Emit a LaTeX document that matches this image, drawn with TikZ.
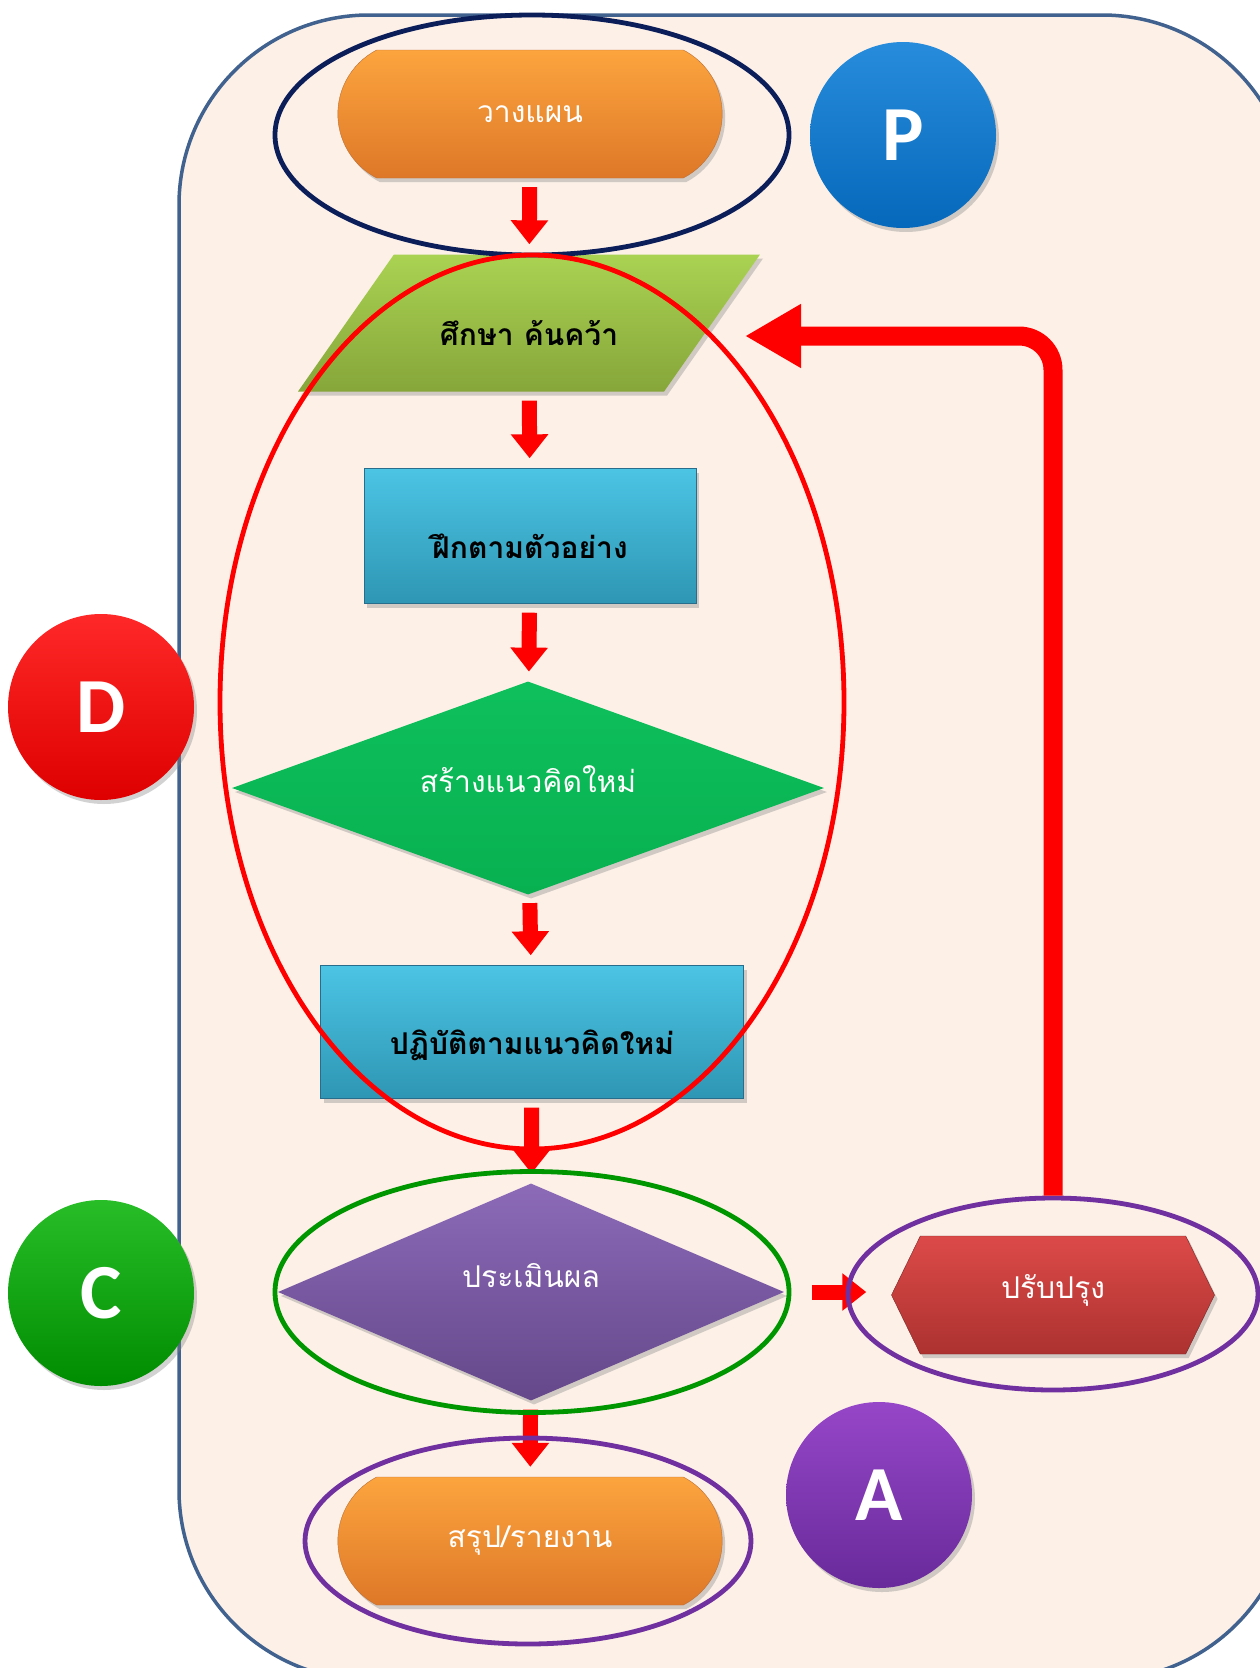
\documentclass[tikz,border=0pt]{standalone}
\usepackage{fontspec}
\newfontfamily\thaifont[Script=Thai]{Loma}
\newfontfamily\letterfont{Carlito}
\usepackage{xcolor}
\usetikzlibrary{shapes,arrows.meta,shadows}

\definecolor{paper}{RGB}{252,240,231}
\definecolor{frameblue}{RGB}{65,98,142}
\definecolor{navyring}{RGB}{12,30,90}
\definecolor{greenring}{RGB}{0,150,0}
\definecolor{purplering}{RGB}{112,48,160}

\begin{document}
\begin{tikzpicture}[x=1pt, y=-1pt]
    \tikzstyle{shade} = [drop shadow={opacity=0.35, shadow xshift=3pt, shadow yshift=-4pt}]
    \tikzstyle{pill} = [rounded rectangle, rounded rectangle arc length=125, minimum width=391pt, minimum height=128pt, top color={rgb,255:red,252;green,164;blue,62}, bottom color={rgb,255:red,222;green,120;blue,40}, draw={rgb,255:red,190;green,110;blue,50}, text=white, shade]
    \tikzstyle{inbox} = [trapezium, trapezium left angle=55, trapezium right angle=125, trapezium stretches body, text height=44pt, text depth=0pt, inner ysep=46.5pt, minimum width=462pt, top color={rgb,255:red,170;green,210;blue,82}, bottom color={rgb,255:red,134;green,166;blue,58}, text=black, font=\thaifont\bfseries\fontsize{30}{36}\selectfont, shade]
    \tikzstyle{procbox} = [rectangle, text height=45pt, text depth=0pt, top color={rgb,255:red,76;green,196;blue,228}, bottom color={rgb,255:red,46;green,150;blue,180}, draw={rgb,255:red,40;green,110;blue,140}, text=black, font=\thaifont\bfseries\fontsize{30}{36}\selectfont, shade]
    \tikzstyle{choice} = [diamond, inner sep=0pt, text=white, shade]
    \tikzstyle{fixbox} = [signal, signal to=west and east, signal pointer angle=128, text height=6pt, text depth=0pt, minimum width=323pt, minimum height=118pt, top color={rgb,255:red,220;green,74;blue,72}, bottom color={rgb,255:red,172;green,50;blue,48}, draw={rgb,255:red,120;green,40;blue,40}, text=white, shade]
    \tikzstyle{ring} = [ellipse, line width=4.8pt, inner sep=0pt]
    \tikzstyle{letter} = [circle, minimum size=186pt, text=white, font=\letterfont\bfseries\fontsize{78}{80}\selectfont, shade]
    \tikzstyle{flow} = [draw=red, line width=15pt, -{Triangle[width=36pt,length=24pt]}, shorten <=9pt, shorten >=10pt]
    \tikzstyle{loop} = [draw=red, line width=19pt, rounded corners=34pt, -{Triangle[width=60pt,length=56pt]}]

    % Frame
    \clip (0,0) rectangle (1260,1668);
    \fill[white] (0,0) rectangle (1260,1668);
    \draw[frameblue, fill=paper, line width=3.5pt, rounded corners=190pt] (179,15) rectangle (1292,1680);

    \begin{scope}[font=\thaifont\fontsize{30}{36}\selectfont]
    % Steps
    \node [pill] (plan) at (530,114) {วางแผน};
    \node [inbox] (study) at (529,323) {ศึกษา ค้นคว้า};
    \node [procbox, minimum width=332pt, minimum height=135pt] (practice) at (530,536) {ฝึกตามตัวอย่าง};
    \node [choice, aspect=2.78, text height=8pt, text depth=0pt, minimum width=592pt, minimum height=213pt, top color={rgb,255:red,14;green,192;blue,92}, bottom color={rgb,255:red,8;green,176;blue,80}] (idea) at (528,788) {สร้างแนวคิดใหม่};
    \node [procbox, minimum width=423pt, minimum height=133pt] (apply) at (532,1032) {ปฏิบัติตามแนวคิดใหม่};
    \node [choice, aspect=2.33, text height=0pt, text depth=10pt, minimum width=506pt, minimum height=217pt, top color={rgb,255:red,140;green,106;blue,184}, bottom color={rgb,255:red,100;green,72;blue,138}] (eval) at (531,1292) {ประเมินผล};
    \node [fixbox] (fix) at (1053,1295) {ปรับปรุง};
    \node [pill] (report) at (530,1541) {สรุป/รายงาน};
    \end{scope}

    % Letters
    \node [letter, top color={rgb,255:red,40;green,140;blue,220}, bottom color={rgb,255:red,6;green,104;blue,186}] (markP) at (903,135) {P};
    \node [letter, top color={rgb,255:red,255;green,40;blue,40}, bottom color={rgb,255:red,222;green,0;blue,0}] (markD) at (101,707) {D};
    \node [letter, top color={rgb,255:red,40;green,190;blue,40}, bottom color={rgb,255:red,0;green,140;blue,0}] (markC) at (101,1293) {C};
    \node [letter, top color={rgb,255:red,150;green,70;blue,200}, bottom color={rgb,255:red,104;green,42;blue,154}] (markA) at (879,1495) {A};

    % Arrows
    \draw [flow] (plan) -- (study);
    \draw [flow] (study) -- (practice);
    \draw [flow] (practice) -- (idea);
    \draw [flow] (idea) -- (apply);
    \draw [flow] (apply) -- (eval);
    \draw [flow] (eval) -- (report);
    \draw [flow, shorten <=28pt, shorten >=25pt] (eval.east) -- (eval.east -| fix.west);

    % Rings
    \node [ring, draw=navyring, minimum width=514pt, minimum height=240pt] (planring) at (532,135) {};
    \node [ring, draw=red, minimum width=624pt, minimum height=894pt] (doring) at (532,702) {};
    \node [ring, draw=greenring, minimum width=514pt, minimum height=241pt] (checkring) at (532,1292) {};
    \node [ring, draw=purplering, minimum width=410pt, minimum height=192pt] (fixring) at (1053,1294) {};
    \node [ring, draw=purplering, minimum width=446pt, minimum height=206pt] (reportring) at (528,1541) {};

    % Back to study
    \coordinate (back) at (745,336);
    \draw [loop] (fixring.north) |- (back);
\end{tikzpicture}
\end{document}
